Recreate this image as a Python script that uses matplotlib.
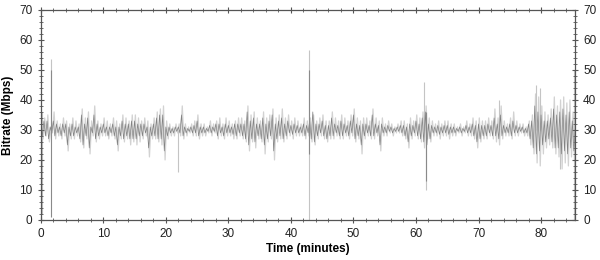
import numpy as np
import matplotlib
matplotlib.use("Agg")
import matplotlib.pyplot as plt
from matplotlib.ticker import MultipleLocator

plt.rcParams["font.family"] = ["Liberation Sans", "DejaVu Sans"]

# dark trace: bitrate sampled every 15 s (Mbps), read per minute
rate_avg = [
    32, 28, 33, 28,  33, 27, 31, 29,  33, 28, 32, 29,  31, 28, 32, 29,
    32, 25, 31, 28,  32, 28, 31, 29,  31, 27, 35, 25,  32, 28, 34, 24,
    31, 29, 35, 27,  32, 28, 31, 29,  32, 29, 31, 28,  31, 29, 32, 28,
    31, 25, 31, 28,  33, 27, 32, 28,  32, 27, 33, 27,  33, 27, 32, 28,
    32, 28, 32, 29,  31, 24, 31, 28,  32, 28, 34, 27,  35, 27, 35, 23,
    31, 28, 31, 29,  30.5, 29, 31, 29.5,  31, 29, 35, 28,  31, 29, 30.5, 29.5,
    31, 29, 31.5, 29,  33, 28, 31, 29,  31, 29, 30.5, 29.5,  31.5, 29, 31, 29.5,
    32, 28, 32, 29,  31, 28, 32, 29,  31.5, 29, 31, 28.5,  32, 28, 32, 29,
    32, 28, 32, 27,  36, 25, 33, 27,  34, 26, 32, 28,  32, 27, 34, 25,
    32, 27, 33, 28,  35, 23, 32, 27,  33, 28, 34, 27,  32, 28, 33, 29,
    31.5, 28.5, 32, 29,  31.5, 29, 31, 29,  32, 28, 31.5, 29,  33, 27, 36, 26,
    32, 28, 32, 29,  33, 28, 31.5, 27,  31.5, 28, 34, 28,  32, 29, 31.5, 28,
    33, 28, 32, 29,  31.5, 28, 33, 29,  35, 27, 32, 28,  31.5, 25, 32, 28,
    32, 29, 31.5, 28,  35, 28, 32, 29,  31.5, 25, 32, 29,  31, 29, 31.5, 29.5,
    31, 29, 30.5, 29.5,  31, 29.5, 31.5, 29,  31.5, 28, 31, 26,  32, 28, 31.5, 29,
    33, 28, 32, 27,  34, 26, 36, 25,  32, 27, 31.5, 29,  31, 29, 31.5, 28.5,
    31, 29, 31.5, 29,  31.5, 28.5, 31, 29,  31, 29, 30.5, 29.5,  31, 29, 30.5, 29.5,
    31.5, 29, 31, 29,  32, 28, 31.5, 26,  32, 27, 31.5, 28,  31.5, 28, 32, 29,
    31.5, 28, 34, 28,  32, 27, 35, 28,  31.5, 29, 31, 29,  32, 28, 33, 29,
    31.5, 29, 31, 29.5,  31, 29, 30.5, 29,  32, 27, 33, 24,  38, 22, 36, 23,
    35, 25, 33, 26,  33, 27, 34, 26,  37, 24, 35, 24,  36, 22, 37, 23,
    35, 22, 36, 24,  33, 23, 31,
]

# light trace: short-term peaks, offset by 7.5 s
rate_peak = [
    33, 27, 34, 28,  35, 26, 31, 29,  36, 27, 33, 28,  32, 27, 34, 28,
    33, 23, 32, 27,  34, 27, 33, 28,  32, 26, 37, 24,  34, 27, 36, 22,
    33, 28, 38, 26,  33, 27, 32, 28,  34, 28, 33, 27,  32, 28, 34, 27,
    33, 23, 32, 27,  35, 26, 34, 27,  33, 25, 35, 26,  35, 25, 34, 26,
    33, 27, 34, 28,  33, 21, 32, 27,  34, 27, 36, 26,  37, 25, 38, 20,
    33, 27, 32, 28,  31, 28, 32, 29,  32, 28, 38, 27,  32, 28, 31, 29,
    32, 28, 33, 28,  35, 27, 32, 28,  32, 28, 31, 29,  33, 28, 32, 29,
    33, 27, 34, 28,  32, 27, 34, 28,  33, 28, 32, 27,  33, 27, 34, 28,
    34, 27, 33, 26,  38, 23, 35, 26,  36, 24, 34, 27,  33, 26, 36, 22,
    34, 26, 35, 27,  37, 20, 34, 26,  35, 27, 37, 26,  34, 27, 35, 28,
    33, 27, 34, 28,  33, 28, 32, 28,  34, 27, 33, 28,  34, 26, 35, 25,
    33, 27, 34, 28,  35, 27, 33, 26,  33, 27, 36, 27,  34, 28, 33, 27,
    35, 27, 34, 28,  33, 27, 35, 28,  37, 26, 34, 27,  33, 22, 34, 27,
    34, 28, 33, 27,  37, 27, 34, 28,  33, 23, 34, 28,  32, 28, 33, 29,
    32, 28, 31, 29,  32, 29, 33, 28,  33, 27, 32, 24,  34, 27, 33, 28,
    35, 27, 34, 26,  36, 24, 38, 27,  34, 26, 33, 28,  32, 28, 33, 27,
    32, 28, 33, 28,  33, 27, 32, 28,  32, 28, 31, 29,  32, 28, 31, 29,
    33, 28, 32, 28,  34, 27, 33, 24,  34, 26, 33, 27,  33, 27, 34, 28,
    33, 27, 37, 26,  34, 25, 38, 27,  33, 28, 32, 28,  34, 27, 36, 28,
    33, 28, 32, 29,  32, 28, 31, 28,  33, 25, 35, 22,  42, 19, 41, 18,
    38, 22, 36, 24,  35, 25, 37, 24,  41, 22, 38, 21,  40, 17, 41, 19,
    39, 18, 40, 21,  36, 19, 34,
]

# isolated spikes (minute, low, high)
light_spike_t = [0.1, 0.25, 1.7, 22.0, 42.9, 61.3, 61.6, 73.3, 79.2, 79.8, 83.1, 85.3]
light_spike_lo = [0, 2, 28, 16, 0, 30, 10, 30, 30, 30, 17, 0]
light_spike_hi = [37, 36, 53.5, 30, 56.7, 46, 30, 40, 45, 44, 30, 50]

dark_spike_t = [1.6, 42.9, 61.6]
dark_spike_lo = [1, 22, 13]
dark_spike_hi = [50, 50, 36]

t_avg = np.arange(len(rate_avg)) * 0.25
t_peak = np.arange(len(rate_peak)) * 0.25 + 0.125

fig = plt.figure(figsize=(6, 2.6), dpi=100)
ax = fig.add_axes([0.068, 0.154, 0.89, 0.808])

ax.plot(t_peak, rate_peak, color="#d2d2d2", lw=0.9, zorder=1)
ax.vlines(light_spike_t, light_spike_lo, light_spike_hi, color="#c4c4c4", lw=0.8, zorder=1)
ax.plot(t_avg, rate_avg, color="#828282", lw=0.5, zorder=2)
ax.vlines(dark_spike_t, dark_spike_lo, dark_spike_hi, color="#8a8a8a", lw=0.8, zorder=2)

ax.set_xlim(0, 85.4)
ax.set_ylim(0, 70)
ax.xaxis.set_major_locator(MultipleLocator(10))
ax.xaxis.set_minor_locator(MultipleLocator(2))
ax.yaxis.set_major_locator(MultipleLocator(10))
ax.yaxis.set_minor_locator(MultipleLocator(2))
ax.tick_params(which="both", direction="inout", top=True, right=True,
               labelright=True, colors="#555555", labelcolor="#222222", labelsize=8.5)
ax.tick_params(which="major", length=5, width=0.8)
ax.tick_params(which="minor", length=2.5, width=0.6)
for s in ax.spines.values():
    s.set_color("#555555")
    s.set_linewidth(0.9)

ax.set_xlabel("Time (minutes)", fontsize=8.5, fontweight="bold", labelpad=2)
ax.set_ylabel("Bitrate (Mbps)", fontsize=8.5, fontweight="bold", labelpad=4)

fig.savefig("out.png", dpi=100)
